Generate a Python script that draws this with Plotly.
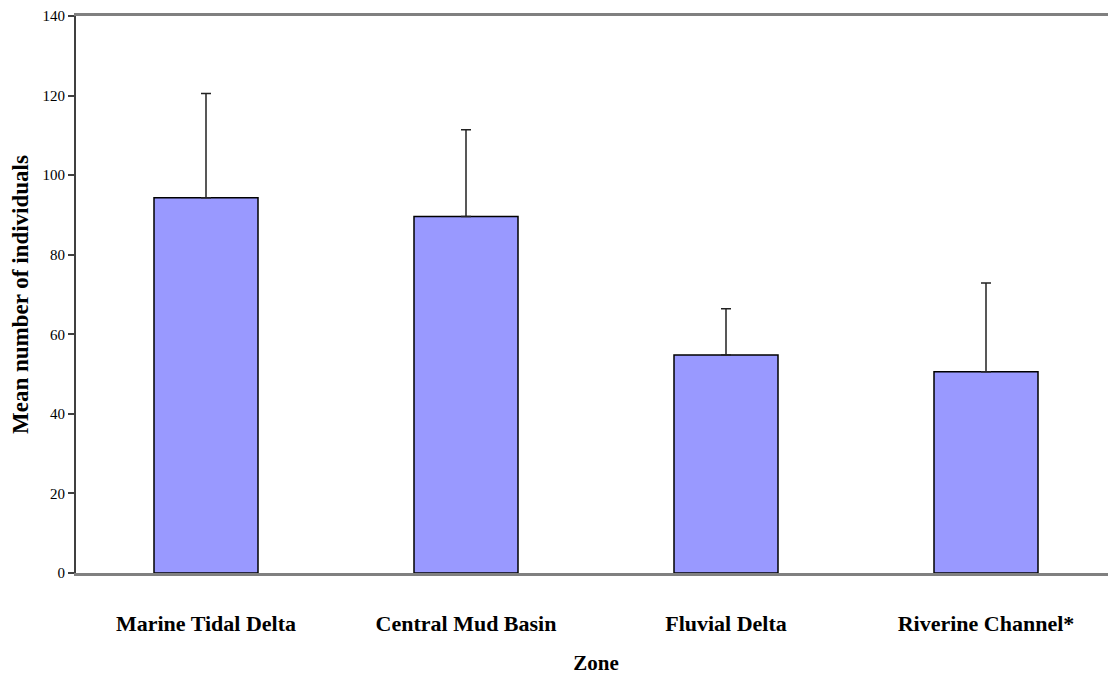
import plotly.graph_objects as go

zones = ["Marine Tidal Delta", "Central Mud Basin", "Fluvial Delta", "Riverine Channel*"]
means = [94.3, 89.6, 54.8, 50.6]
errors = [26.2, 21.8, 11.6, 22.3]
y_ticks = [0, 20, 40, 60, 80, 100, 120, 140]

SERIF = "Liberation Serif, Times New Roman, serif"

fig = go.Figure(go.Bar(
    x=zones, y=means, width=0.4,
    marker=dict(color="#9999FF", line=dict(color="#000000", width=1.5)),
    error_y=dict(type="data", array=errors, symmetric=False, arrayminus=[0]*4,
                 color="#222222", thickness=1.5, width=5),
))

fig.update_layout(
    width=1108, height=667,
    margin=dict(l=68, r=0, t=7.5, b=101.5),
    plot_bgcolor="white", paper_bgcolor="white",
    font=dict(family=SERIF, color="#000000"),
    showlegend=False,
)
fig.update_xaxes(
    range=[-0.5, 3.5], automargin=False,
    showline=True, linecolor="#808080", linewidth=3, mirror=True,
    ticks="", ticklabelstandoff=29,
    tickfont=dict(size=22, family=SERIF, weight="bold"),
    title=dict(text="<b>Zone</b>", font=dict(size=21), standoff=27),
    showgrid=False, zeroline=False,
)
fig.update_yaxes(
    range=[0, 140], tickvals=y_ticks, automargin=False,
    showline=True, linecolor="#404040", linewidth=2,
    ticks="outside", ticklen=6, tickcolor="#404040", tickwidth=1.5,
    tickfont=dict(size=15),
    title=dict(text="<b>Mean number of individuals</b>", font=dict(size=23), standoff=16),
    showgrid=False, zeroline=False,
)

fig.write_html("out.html")
